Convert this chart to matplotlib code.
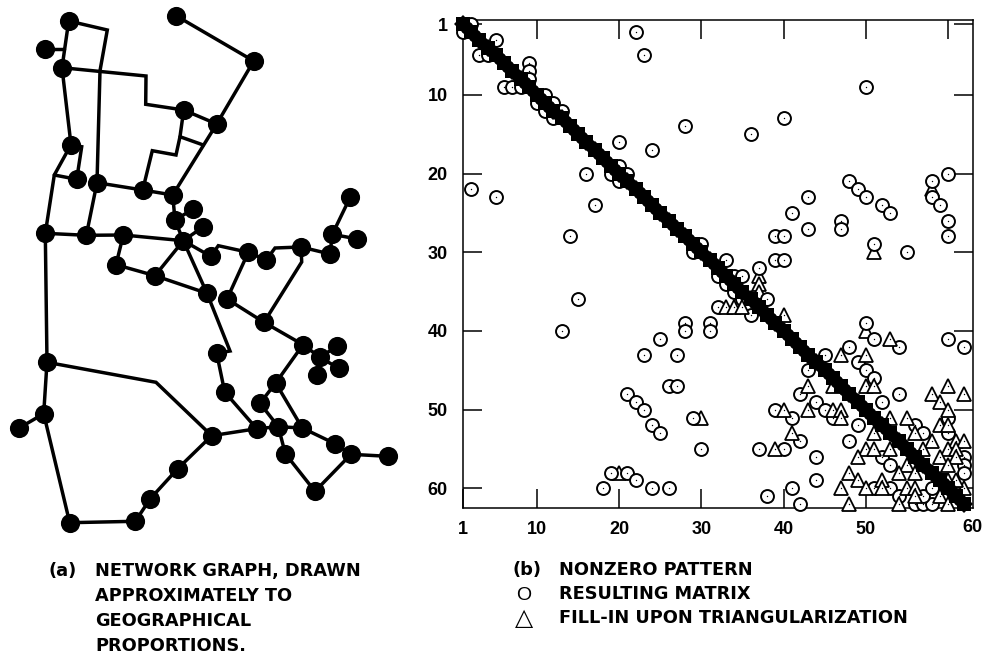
import matplotlib
matplotlib.use("Agg")
import matplotlib.pyplot as plt

W, H = 994, 664

# ---------- network graph (a): node and route positions ----------
nodes = [(68.7,21),(45,49),(62,67.7),(176,15.7),(253.7,61),(183.7,110),(216.7,124),(71,144.7),
         (76.7,179.3),(97,182.7),(142.7,190),(172.7,195),(193.3,209),(175,220),(203,227),
         (45.3,233.3),(86.3,235.3),(123.3,235),(183.3,240.7),(210.7,256.3),(248.3,252.3),
         (266.3,260),(301,247),(330,254),(332.3,234.3),(350.3,197),(357.3,239),(116,264.7),
         (155,275.7),(207,293.3),(227,299),(264,322.3),(303,344.7),(320,357.3),(337.3,346),
         (338.7,368.3),(317.3,375),(275.7,383),(260,403.3),(216.7,353.3),(224.7,392),(47,362.3),
         (43.7,413.7),(18.7,428.3),(211.7,435.7),(256.7,428.7),(278.3,426.7),(302.3,428),
         (335,443.7),(351,454.3),(387.7,456.3),(285.3,453.7),(315,491.3),(177.7,468.7),
         (150.3,498.7),(135.3,521.3),(69.7,522.7)]

routes = [
 [(68.7,21),(107.3,30),(100,70.7),(97,182.7)],
 [(68.7,21),(62,67.7)],
 [(45,49),(64.3,49)],
 [(62,67.7),(146,76),(145.7,104.3),(183.7,110)],
 [(62,67.7),(71,144.7)],
 [(176,15.7),(253.7,61),(216.7,124),(172.7,195)],
 [(183.7,110),(216.7,124)],
 [(183.7,110),(180,136.7),(176,155),(152.3,150.7),(142.7,190)],
 [(180,136.7),(203.3,145)],
 [(71,144.7),(81.7,146.7),(76.7,179.3)],
 [(71,144.7),(54.3,175),(45.3,233.3)],
 [(54.3,175),(76.7,179.3)],
 [(97,182.7),(142.7,190),(172.7,195),(175,220),(183.3,240.7)],
 [(97,182.7),(86.3,235.3)],
 [(175,220),(193.3,209)],
 [(183.3,240.7),(203,227)],
 [(45.3,233.3),(86.3,235.3),(123.3,235),(183.3,240.7)],
 [(123.3,235),(116,264.7),(155,275.7),(207,293.3)],
 [(155,275.7),(183.3,240.7),(207,293.3)],
 [(183.3,240.7),(210.7,256.3),(218.3,245.7),(248.3,252.3),(227,299)],
 [(248.3,252.3),(266.3,260),(275,248),(301,247),(330,254),(332.3,234.3),(350.3,197)],
 [(332.3,234.3),(357.3,239)],
 [(301,247),(301.7,262),(264,322.3)],
 [(227,299),(264,322.3),(303,344.7),(320,357.3),(337.3,346)],
 [(320,357.3),(338.7,368.3)],
 [(320,357.3),(317.3,375)],
 [(303,344.7),(275.7,383),(260,403.3),(278.3,426.7),(285.3,453.7),(315,491.3),(351,454.3),(387.7,456.3)],
 [(275.7,383),(302.3,428),(335,443.7),(351,454.3)],
 [(256.7,428.7),(278.3,426.7),(302.3,428)],
 [(207,293.3),(230,351),(216.7,353.3),(224.7,392),(256.7,428.7)],
 [(211.7,435.7),(256.7,428.7)],
 [(45.3,233.3),(47,362.3),(156,382.3),(211.7,435.7),(177.7,468.7),(150.3,498.7),(135.3,521.3),(69.7,522.7),(43.7,413.7),(47,362.3)],
 [(43.7,413.7),(18.7,428.3)],
]

# ---------- nonzero pattern (b): (column, row) ----------
order = list(range(1, 63))

circles = [(2,1),(1,2),(5,3),(4,4),(3,5),(4,5),(9,6),(9,7),(9,8),(6,9),(7,9),(8,9),(11,10),(12,11),
 (13,12),(10,11),(11,12),(12,13),(22,2),(23,5),(28,14),(20,16),(24,17),(16,20),(19,20),(20,19),
 (21,20),(20,21),(2,22),(5,23),(17,24),(14,28),(30,29),(29,30),(50,9),(40,13),(36,15),(60,20),
 (58,21),(58,23),(59,24),(60,26),(60,28),(55,30),(51,29),(48,21),(49,22),(50,23),(52,24),(53,25),
 (43,23),(41,25),(43,27),(47,26),(47,27),(39,28),(40,28),(39,31),(40,31),(37,32),(33,31),(34,33),
 (35,33),(38,36),(15,36),
 (13,40),(28,39),(28,40),(31,39),(31,40),(25,41),(23,43),(27,43),(26,47),(27,47),(21,48),(22,49),
 (23,50),(29,51),(24,52),(25,53),(30,55),(37,55),(19,58),(21,58),(22,59),(18,60),(24,60),(26,60),
 (38,61),(32,37),(34,35),(32,33),(33,34),(36,38),(35,36),(48,42),(45,43),
 (49,44),(50,45),(51,46),(43,45),(42,48),(44,49),(45,50),(46,51),(39,50),(41,51),(54,48),(52,49),
 (49,52),(48,54),(42,54),(40,55),(44,56),(44,59),(41,60),(42,62),(51,41),(54,42),(60,41),(62,42),
 (50,39),(60,51),(60,53),(62,56),(62,57),(62,58),(56,52),(57,53),(52,56),(53,57),(51,60),(53,60),
 (54,61),(56,62),(57,62),(58,62),(57,61),(58,60)]

# fill-in marks that lie behind the circles
fill_under = [(58,22),(51,30),(30,51),(20,58),(37,33),(37,34),(37,35),(50,40)]

# fill-in marks that lie over the circles
fill_over = [(33,37),(34,37),(35,37),(40,38),(47,43),(50,43),(53,41),(43,47),
 (46,47),(43,50),(46,50),(47,50),(47,51),(40,50),(50,47),(51,47),(41,53),(39,55),(58,48),(60,47),
 (62,48),(59,49),(60,50),(53,51),(55,51),(59,52),(60,52),(51,53),(56,53),(58,54),(61,54),(62,54),
 (50,55),(51,55),(53,55),(57,55),(60,55),(61,55),(49,56),(59,56),(61,56),(55,57),(60,57),(48,58),
 (54,58),(56,58),(49,59),(52,59),(47,60),(50,60),(52,60),(55,60),(56,60),(48,62),(54,62),(56,61),
 (59,61),(60,62),(62,60),(61,59),(60,59)]

x_ticks = [1, 10, 20, 30, 40, 50, 60]
x_tick_labels = ["1", "10", "20", "30", "40", "50", ""]
y_ticks = [1, 10, 20, 30, 40, 50, 60]
y_tick_labels = ["1", "10", "20", "30", "40", "50", "60"]

caption_a = ["NETWORK GRAPH, DRAWN", "APPROXIMATELY TO", "GEOGRAPHICAL", "PROPORTIONS."]
caption_b = ["NONZERO PATTERN", "RESULTING MATRIX", "FILL-IN UPON TRIANGULARIZATION"]

plt.rcParams["font.family"] = ["Liberation Sans", "DejaVu Sans"]
fig = plt.figure(figsize=(W / 100, H / 100), dpi=100, facecolor="white")

# canvas axes in pixel units
ax = fig.add_axes([0, 0, 1, 1])
ax.set_xlim(0, W)
ax.set_ylim(H, 0)
ax.axis("off")

for r in routes:
    ax.plot([p[0] for p in r], [p[1] for p in r], color="black", lw=2.5,
            solid_joinstyle="miter", solid_capstyle="round", zorder=1)
ax.plot([n[0] for n in nodes], [n[1] for n in nodes], "o", color="black", ms=13.8, mew=0, zorder=2)

cap = {"fontsize": 12.8, "fontweight": "bold", "family": "DejaVu Sans", "va": "center", "ha": "left"}
ax.text(48, 571, "(a)", **cap)
for y, s in zip([571, 596, 621, 646], caption_a):
    ax.text(95, y, s, **cap)
ax.text(513, 570, "(b)", **cap)
for y, s in zip([570, 594, 618], caption_b):
    ax.text(559, y, s, **cap)
ax.text(524, 596, "O", fontsize=14, va="center", ha="center")
ax.text(524, 618, "\u25b3", fontsize=17, va="center", ha="center", family="DejaVu Sans")

# matrix axes
L, R, T, B = 463, 973, 20, 508
mx = fig.add_axes([L / W, 1 - B / H, (R - L) / W, (B - T) / H])
mx.set_xlim(1, 1 + (R - L) / 8.22)
mx.set_ylim(1 + (B - 24) / 7.87, 1 + (T - 24) / 7.87)
mx.patch.set_alpha(0)
for s in mx.spines.values():
    s.set_linewidth(1.1)
tick_font = {"fontsize": 13, "fontweight": "bold"}
mx.set_xticks(x_ticks, x_tick_labels, **tick_font)
mx.set_yticks(y_ticks, y_tick_labels, **tick_font)
mx.tick_params(axis="both", direction="in", length=13.5, width=1.1, top=True, right=True)
mx.tick_params(axis="x", pad=9)
mx.tick_params(axis="y", pad=11)
ax.text(972, 527, "60", va="center", ha="center", **tick_font)

uc, ur = zip(*fill_under)
mx.plot(uc, ur, "^", mfc="white", mec="black", ms=9.8, mew=1.3, zorder=2, clip_on=False)
cc, cr = zip(*circles)
mx.plot(cc, cr, "o", mfc="white", mec="black", ms=9.3, mew=1.4, zorder=3, clip_on=False)
mx.plot(cc, cr, "o", color="black", ms=1, mew=0, zorder=3.5, clip_on=False)
tc, tr = zip(*fill_over)
mx.plot(tc, tr, "^", mfc="white", mec="black", ms=9.8, mew=1.3, zorder=4, clip_on=False)
mx.plot(tc, tr, "o", color="black", ms=1, mew=0, zorder=4.1, clip_on=False)
mx.plot(order, order, "D", color="black", ms=9.5, mew=0, zorder=5, clip_on=False)
mx.plot(order, order, "s", color="black", ms=9.8, mew=0, zorder=5, clip_on=False)

fig.savefig("out.png", dpi=100, facecolor="white")
